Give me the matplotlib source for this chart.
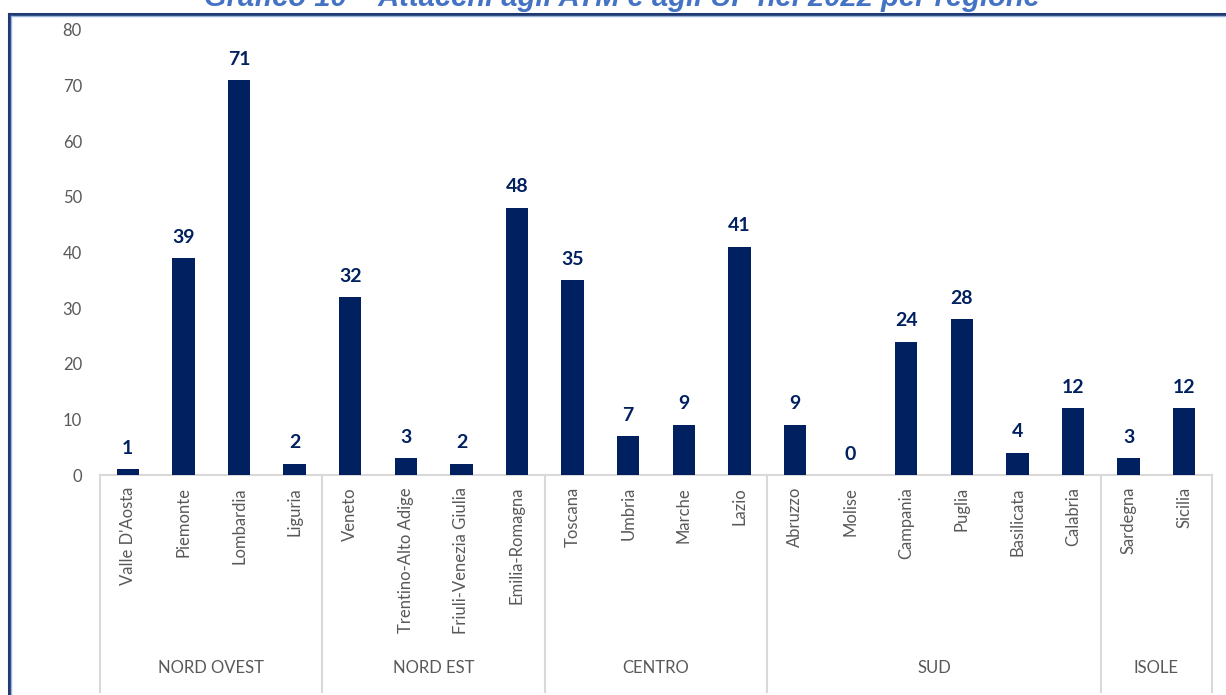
import matplotlib
matplotlib.use("Agg")
import matplotlib.pyplot as plt
from matplotlib.lines import Line2D
from matplotlib.transforms import blended_transform_factory

plt.rcParams['font.family'] = ['Lato', 'DejaVu Sans']

regions = ["Valle D'Aosta", "Piemonte", "Lombardia", "Liguria",
           "Veneto", "Trentino-Alto Adige", "Friuli-Venezia Giulia", "Emilia-Romagna",
           "Toscana", "Umbria", "Marche", "Lazio",
           "Abruzzo", "Molise", "Campania", "Puglia", "Basilicata", "Calabria",
           "Sardegna", "Sicilia"]
attacks = [1, 39, 71, 2,
           32, 3, 2, 48,
           35, 7, 9, 41,
           9, 0, 24, 28, 4, 12,
           3, 12]
areas = ["NORD OVEST", "NORD EST", "CENTRO", "SUD", "ISOLE"]
area_sizes = [4, 4, 4, 6, 2]
yticks = [0, 10, 20, 30, 40, 50, 60, 70, 80]

title = "Grafico 10 \u2013 Attacchi agli ATM e agli UP nel 2022 per regione"

NAVY = "#002060"
GREY_TXT = "#595959"
GREY_LINE = "#D9D9D9"

W, H = 1226, 695
fig = plt.figure(figsize=(W / 100, H / 100), dpi=100)
fig.patch.set_facecolor("white")

left, right, bottom, top = 100, 1212, 475, 30
ax = fig.add_axes([left / W, 1 - bottom / H, (right - left) / W, (bottom - top) / H])

x = list(range(len(regions)))
ax.bar(x, attacks, width=0.4, color=NAVY, zorder=3)
for xi, v in zip(x, attacks):
    ax.annotate(str(v), (xi, v), xytext=(0, 9), textcoords="offset points",
                ha="center", va="bottom", fontsize=14, fontweight="bold",
                color=NAVY)

ax.set_xlim(-0.5, len(regions) - 0.5)
ax.set_ylim(0, 80)
ax.set_yticks(yticks)
ax.set_yticklabels([str(t) for t in yticks], color=GREY_TXT, fontsize=12)
ax.tick_params(axis="y", length=0, pad=13)
ax.set_xticks([])
for s in ["top", "right", "left"]:
    ax.spines[s].set_visible(False)
ax.spines["bottom"].set_color(GREY_LINE)
ax.spines["bottom"].set_linewidth(1.5)

trans = blended_transform_factory(ax.transData, ax.transAxes)
axes_h = bottom - top
for xi, name in zip(x, regions):
    ax.text(xi, -12 / axes_h, name, transform=trans, rotation=90,
            ha="center", va="top", fontsize=12, color=GREY_TXT)

# group separators and group names
y_low = -(H - 3 - bottom) / axes_h
start = 0
bounds = [-0.5]
for name, n in zip(areas, area_sizes):
    ax.text(start + (n - 1) / 2, -(668 - bottom) / axes_h, name, transform=trans,
            ha="center", va="center", fontsize=12, color=GREY_TXT)
    start += n
    bounds.append(start - 0.5)
for b in bounds:
    ax.add_line(Line2D([b, b], [0, y_low], transform=trans, color=GREY_LINE,
                       linewidth=1.5, clip_on=False))

# page frame
fig.add_artist(Line2D([9 / W, 1], [1 - 14 / H, 1 - 14 / H], color="#1F3A73",
                      linewidth=2.2))
fig.add_artist(Line2D([9 / W, 1], [1 - 16 / H, 1 - 16 / H], color="#9DB3DB",
                      linewidth=1))
fig.add_artist(Line2D([9 / W, 9 / W], [0, 1 - 14 / H], color="#1F3A73",
                      linewidth=2.2))
fig.add_artist(Line2D([11 / W, 11 / W], [0, 1 - 16 / H], color="#9DB3DB",
                      linewidth=1))

fig.text(622 / W, 1 - 6 / H, title, ha="center", va="baseline",
         fontsize=21, fontweight="bold", fontstyle="italic", color="#4472C4",
         family=["Liberation Sans", "DejaVu Sans"])

fig.savefig("out.png", dpi=100, facecolor="white")
